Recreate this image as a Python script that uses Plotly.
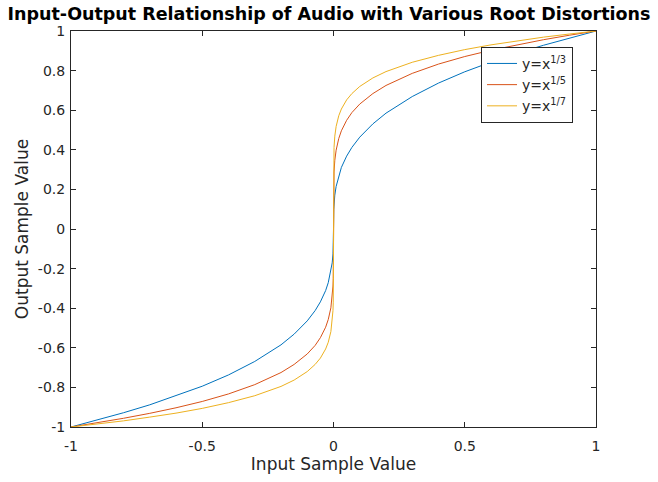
import plotly.graph_objects as go

# Positive half of input axis (curves are odd-symmetric)
x_pos = [0.0, 0.001, 0.002, 0.005, 0.01, 0.02, 0.03, 0.05, 0.07, 0.1, 0.15, 0.2,
         0.3, 0.4, 0.5, 0.6, 0.7, 0.8, 0.9, 1.0]
y_cube_pos = [0.0, 0.100, 0.126, 0.171, 0.215, 0.271, 0.311, 0.368, 0.412, 0.464, 0.531, 0.585,
              0.669, 0.737, 0.794, 0.843, 0.888, 0.928, 0.965, 1.0]
y_fifth_pos = [0.0, 0.251, 0.288, 0.347, 0.398, 0.457, 0.496, 0.549, 0.588, 0.631, 0.684, 0.725,
               0.786, 0.833, 0.871, 0.903, 0.931, 0.956, 0.979, 1.0]
y_seventh_pos = [0.0, 0.373, 0.412, 0.469, 0.518, 0.572, 0.606, 0.652, 0.684, 0.720, 0.763, 0.795,
                 0.842, 0.877, 0.906, 0.930, 0.950, 0.969, 0.985, 1.0]

labels = ["y=x<sup>1/3</sup>", "y=x<sup>1/5</sup>", "y=x<sup>1/7</sup>"]
colors = ["#0072BD", "#D95319", "#EDB120"]

x_tick_vals = [-1, -0.5, 0, 0.5, 1]
x_tick_text = ["-1", "-0.5", "0", "0.5", "1"]
y_tick_vals = [-1, -0.8, -0.6, -0.4, -0.2, 0, 0.2, 0.4, 0.6, 0.8, 1]
y_tick_text = ["-1", "-0.8", "-0.6", "-0.4", "-0.2", "0", "0.2", "0.4", "0.6", "0.8", "1"]


def mirror(xs, ys):
    xn = [-v for v in reversed(xs[1:])]
    yn = [-v for v in reversed(ys[1:])]
    return xn + xs, yn + ys


fig = go.Figure()
for ys, name, c in zip([y_cube_pos, y_fifth_pos, y_seventh_pos], labels, colors):
    xx, yy = mirror(x_pos, ys)
    fig.add_trace(go.Scatter(x=xx, y=yy, mode="lines", name=name,
                             line=dict(color=c, width=1)))

axis_common = dict(showgrid=False, zeroline=False, showline=True, linecolor="#262626",
                   linewidth=1, mirror="allticks", ticks="inside", ticklen=5,
                   tickcolor="#262626", tickfont=dict(family="DejaVu Sans", size=14, color="#262626"))

fig.update_layout(
    width=658, height=482,
    margin=dict(l=71, r=62, t=31, b=53),
    paper_bgcolor="white", plot_bgcolor="white",
    title=dict(text="<b>Input-Output Relationship of Audio with Various Root Distortions</b>",
               x=0.5, xanchor="center", y=0.971, yanchor="middle",
               font=dict(family="DejaVu Sans", size=17.5, color="black")),
    xaxis=dict(range=[-1, 1], tickvals=x_tick_vals, ticktext=x_tick_text,
               ticklabelstandoff=6,
               title=dict(text="Input Sample Value", standoff=4,
                          font=dict(family="DejaVu Sans", size=17, color="#262626")),
               **axis_common),
    yaxis=dict(range=[-1, 1], tickvals=y_tick_vals, ticktext=y_tick_text,
               ticklabelstandoff=2,
               title=dict(text="Output Sample Value", standoff=4,
                          font=dict(family="DejaVu Sans", size=17, color="#262626")),
               **axis_common),
    legend=dict(x=0.781, y=0.96, xanchor="left", yanchor="top",
                bgcolor="white", bordercolor="#262626", borderwidth=1,
                font=dict(family="DejaVu Sans", size=14, color="#262626"),
                tracegroupgap=0, itemwidth=30),
    showlegend=True,
)

fig.write_html("out.html")
